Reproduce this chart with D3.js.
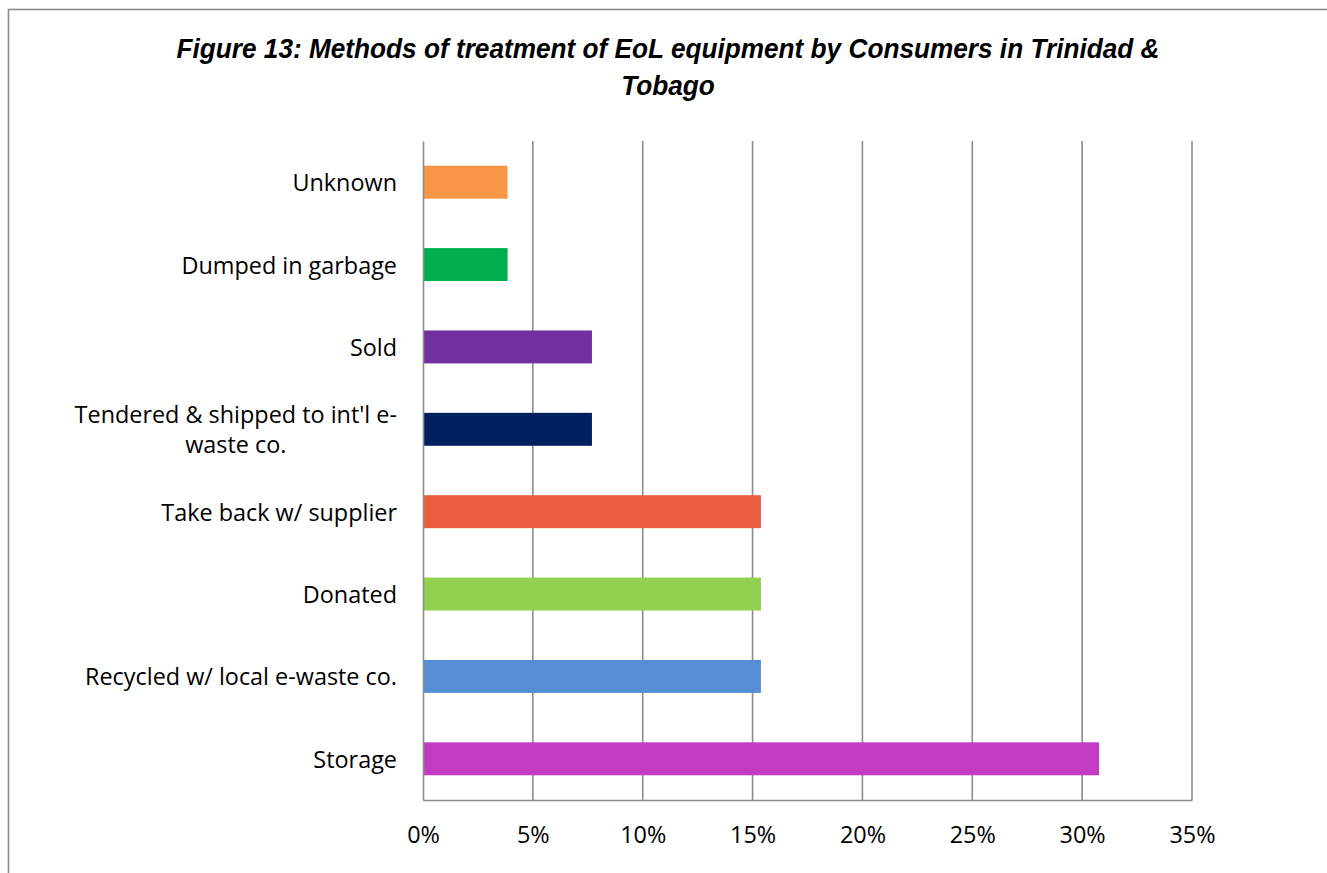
<!DOCTYPE html>
<html>
<head>
<meta charset="utf-8">
<script src="https://cdn.jsdelivr.net/npm/d3@7"></script>
<style>
  html, body { margin: 0; padding: 0; background: #fff; }
  svg { display: block; }
</style>
</head>
<body>
<svg id="chart" width="1327" height="873"></svg>
<script>
// Survey categories, top to bottom as displayed
const categories = [
  "Unknown",
  "Dumped in garbage",
  "Sold",
  "Tendered & shipped to int'l e-waste co.",
  "Take back w/ supplier",
  "Donated",
  "Recycled w/ local e-waste co.",
  "Storage"
];
// Share of respondents (fraction)
const shares = [0.0385, 0.0385, 0.0769, 0.0769, 0.1538, 0.1538, 0.1538, 0.3077];
// Bar colours per category
const barColors = ["#F79646", "#00B050", "#7030A0", "#002060", "#EA5E3F", "#92D050", "#558ED5", "#C43BC3"];
// Category labels split into lines as wrapped on the chart
const labelLines = [
  ["Unknown"],
  ["Dumped in garbage"],
  ["Sold"],
  ["Tendered & shipped to int'l e-", "waste co."],
  ["Take back w/ supplier"],
  ["Donated"],
  ["Recycled w/ local e-waste co."],
  ["Storage"]
];
const xTicks = [0, 0.05, 0.10, 0.15, 0.20, 0.25, 0.30, 0.35];
const titleLines = [
  "Figure 13: Methods of treatment of EoL equipment by Consumers in Trinidad &",
  "Tobago"
];

const svg = d3.select("#chart");
const plot = { left: 423, right: 1192, top: 141, bottom: 800 };
const labelFont = "'Open Sans', 'Noto Sans', sans-serif";
const grey = "#8c8c8c";

// Pick a label size so the longest wrapped line spans about 322px
const probe = svg.append("text").attr("font-family", labelFont).attr("font-size", 20).text(labelLines[3][0]);
const labelSize = Math.round(20 * 322 / probe.node().getComputedTextLength() * 10) / 10;
probe.remove();

// Outer chart frame
svg.append("rect")
  .attr("x", 8.5).attr("y", 9.5)
  .attr("width", 1400).attr("height", 1000)
  .attr("fill", "#fff")
  .attr("stroke", grey).attr("stroke-width", 1.6);

// Title: condensed bold italic, lines centred
const title = svg.append("g")
  .attr("font-family", "'Liberation Sans', Arial, sans-serif")
  .attr("font-weight", "bold")
  .attr("font-style", "italic")
  .attr("font-size", 28)
  .attr("fill", "#000");
const t1 = title.append("text").attr("x", 668).attr("y", 58).attr("text-anchor", "middle").text(titleLines[0]);
const natural = t1.node().getComputedTextLength();
const squeeze = 983 / natural;
t1.attr("textLength", 983).attr("lengthAdjust", "spacingAndGlyphs");
const t2 = title.append("text").attr("x", 668).attr("y", 95).attr("text-anchor", "middle").text(titleLines[1]);
t2.attr("textLength", t2.node().getComputedTextLength() * squeeze).attr("lengthAdjust", "spacingAndGlyphs");

const x = d3.scaleLinear().domain([0, 0.35]).range([plot.left, plot.right]);
const y = d3.scaleBand().domain(categories).range([plot.top, plot.bottom]).paddingInner(0.6).paddingOuter(0.3);

// Vertical gridlines
svg.append("g").selectAll("line").data(xTicks.slice(1)).join("line")
  .attr("x1", d => x(d)).attr("x2", d => x(d))
  .attr("y1", plot.top).attr("y2", plot.bottom)
  .attr("stroke", grey).attr("stroke-width", 1.6);

// Bars
svg.append("g").selectAll("rect").data(categories).join("rect")
  .attr("x", x(0))
  .attr("y", d => y(d))
  .attr("width", (d, i) => x(shares[i]) - x(0))
  .attr("height", y.bandwidth())
  .attr("fill", (d, i) => barColors[i]);

// X axis
const xAxis = d3.axisBottom(x).tickValues(xTicks).tickFormat(d3.format(".0%")).tickSize(0).tickPadding(26);
const gx = svg.append("g").attr("transform", `translate(0,${plot.bottom})`).call(xAxis);
gx.select(".domain").attr("stroke", grey).attr("stroke-width", 1.6);
gx.selectAll("text")
  .attr("font-family", labelFont)
  .attr("font-size", labelSize)
  .attr("fill", "#000");

// Y axis line
const yAxis = d3.axisLeft(y).tickSize(0).tickFormat("");
const gy = svg.append("g").attr("transform", `translate(${plot.left},0)`).call(yAxis);
gy.select(".domain").attr("stroke", grey).attr("stroke-width", 1.6);

// Category labels (wrapped lines centred within their block, block right edge near the axis)
const lineH = 30;
const labels = svg.append("g")
  .attr("font-family", labelFont)
  .attr("font-size", labelSize)
  .attr("fill", "#000");
categories.forEach((c, i) => {
  const lines = labelLines[i];
  const cy = y(c) + y.bandwidth() / 2;
  const t = labels.append("text").attr("dominant-baseline", "central");
  lines.forEach((ln, k) => {
    t.append("tspan").attr("y", cy + (k - (lines.length - 1) / 2) * lineH).text(ln);
  });
  const tspans = t.selectAll("tspan").nodes();
  const blockW = Math.max(...tspans.map(n => n.getComputedTextLength()));
  const right = plot.left - 26;
  tspans.forEach(n => {
    d3.select(n).attr("x", right - blockW / 2).attr("text-anchor", "middle");
  });
});
</script>
</body>
</html>
